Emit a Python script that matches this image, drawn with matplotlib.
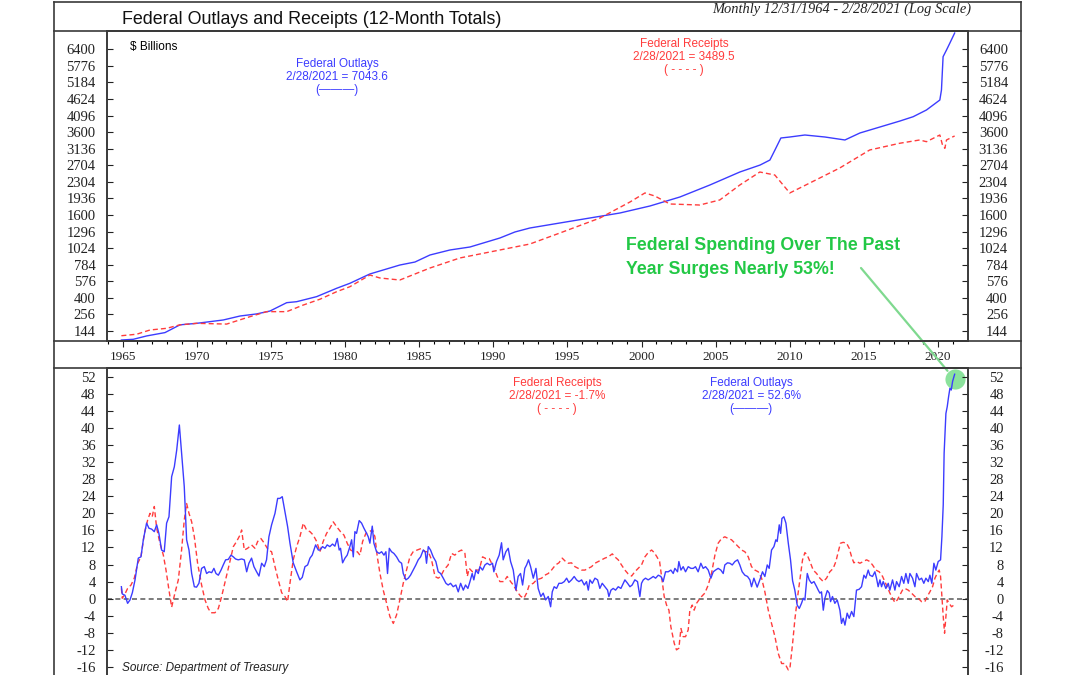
import matplotlib
matplotlib.use("Agg")
import numpy as np
import matplotlib.pyplot as plt
from matplotlib.lines import Line2D

plt.rcParams['axes.unicode_minus'] = False

# ---- data (decimal years) ----
top_out_years = [1964.92, 1965.72, 1966.63, 1967.86, 1968.87, 1970.00, 1971.79, 1972.92, 1974.04,
                 1974.94, 1976.07, 1976.74, 1978.09, 1979.44, 1980.33, 1981.68, 1983.70, 1984.72,
                 1985.73, 1987.08, 1988.43, 1990.45, 1991.46, 1992.47, 1994.50, 1996.52, 1998.54,
                 2000.57, 2002.59, 2004.61, 2006.63, 2008.00, 2008.66, 2009.00, 2009.40, 2010.00,
                 2011.02, 2012.37, 2013.72, 2014.73, 2017.43, 2018.32, 2019.22, 2020.12, 2020.23,
                 2020.34, 2020.57, 2020.79, 2021.12]
top_out = [96.6, 100, 117, 135, 182, 192, 215, 244, 260, 283, 355, 364, 412, 498, 553, 664, 780, 821,
           921, 996, 1042, 1187, 1289, 1359, 1450, 1543, 1639, 1779, 1967, 2232, 2538, 2711, 2838,
           3102, 3433, 3461, 3518, 3461, 3377, 3576, 3930, 4061, 4271, 4591, 4925, 6117, 6373, 6634,
           7043.6]

top_rec_years = [1964.92, 1965.95, 1966.85, 1967.97, 1968.87, 1970.00, 1972.02, 1973.59, 1974.72,
                 1976.07, 1977.19, 1978.31, 1979.44, 1980.33, 1981.68, 1982.36, 1983.70, 1985.73,
                 1987.75, 1990.45, 1992.47, 1994.50, 1997.20, 1999.22, 2000.23, 2000.90, 2001.91,
                 2003.93, 2005.28, 2006.63, 2007.98, 2008.99, 2010.00, 2011.35, 2013.37, 2015.39,
                 2017.41, 2018.76, 2019.22, 2020.12, 2020.30, 2020.46, 2020.57, 2021.01, 2021.12]
top_rec = [118, 126, 150, 160, 182, 192, 187, 239, 278, 278, 334, 387, 462, 515, 651, 615, 591, 740,
           878, 996, 1089, 1272, 1543, 1861, 2054, 1988, 1820, 1799, 1904, 2232, 2538, 2466, 2054,
           2278, 2637, 3102, 3285, 3377, 3329, 3518, 3238, 3147, 3377, 3469, 3489.5]

chg_out_years = [
    1964.92, 1964.98, 1965.16, 1965.34, 1965.50, 1965.66, 1965.84, 1966.06, 1966.24, 1966.40,
    1966.62, 1966.78, 1966.96, 1967.14, 1967.30, 1967.45, 1967.63, 1967.81, 1967.97, 1968.13,
    1968.31, 1968.49, 1968.65, 1968.83, 1968.98, 1969.16, 1969.32, 1969.48, 1969.66, 1969.84,
    1969.99, 1970.15, 1970.33, 1970.51, 1970.67, 1970.83, 1971.01, 1971.16, 1971.30, 1971.46,
    1971.64, 1971.79, 1971.95, 1972.13, 1972.31, 1972.47, 1972.62, 1972.80, 1973.03, 1973.21,
    1973.37, 1973.52, 1973.70, 1973.86, 1974.04, 1974.20, 1974.38, 1974.56, 1974.71, 1974.87,
    1975.05, 1975.28, 1975.46, 1975.61, 1975.77, 1975.95, 1976.13, 1976.29, 1976.51, 1976.74,
    1976.96, 1977.12, 1977.30, 1977.48, 1977.64, 1977.79, 1978.02, 1978.20, 1978.31, 1978.49,
    1978.65, 1978.80, 1978.98, 1979.16, 1979.32, 1979.48, 1979.61, 1979.70, 1979.84, 1980.00,
    1980.15, 1980.33, 1980.45, 1980.56, 1980.67, 1980.78, 1980.96, 1981.12, 1981.28, 1981.46,
    1981.57, 1981.68, 1981.84, 1981.95, 1982.13, 1982.31, 1982.47, 1982.63, 1982.76, 1982.87,
    1982.99, 1983.14, 1983.30, 1983.48, 1983.66, 1983.82, 1983.93, 1984.11, 1984.27, 1984.42,
    1984.60, 1984.78, 1984.94, 1985.10, 1985.28, 1985.41, 1985.50, 1985.62, 1985.77, 1985.95,
    1986.13, 1986.29, 1986.45, 1986.63, 1986.81, 1986.96, 1987.12, 1987.30, 1987.48, 1987.64,
    1987.80, 1987.98, 1988.13, 1988.29, 1988.43, 1988.58, 1988.69, 1988.83, 1988.99, 1989.10,
    1989.28, 1989.44, 1989.59, 1989.77, 1989.95, 1990.04, 1990.22, 1990.40, 1990.56, 1990.67,
    1990.85, 1991.01, 1991.17, 1991.35, 1991.53, 1991.68, 1991.84, 1991.98, 1992.13, 1992.25,
    1992.38, 1992.52, 1992.70, 1992.88, 1993.03, 1993.21, 1993.37, 1993.53, 1993.71, 1993.87,
    1993.98, 1994.11, 1994.27, 1994.43, 1994.61, 1994.79, 1994.95, 1995.10, 1995.28, 1995.46,
    1995.62, 1995.78, 1995.96, 1996.14, 1996.29, 1996.41, 1996.52, 1996.68, 1996.86, 1997.04,
    1997.19, 1997.35, 1997.53, 1997.71, 1997.80, 1997.94, 1998.09, 1998.25, 1998.43, 1998.61,
    1998.77, 1998.88, 1999.06, 1999.22, 1999.37, 1999.55, 1999.73, 1999.89, 2000.00, 2000.12,
    2000.27, 2000.45, 2000.63, 2000.79, 2000.95, 2001.13, 2001.31, 2001.46, 2001.62, 2001.80,
    2001.98, 2002.14, 2002.25, 2002.43, 2002.52, 2002.66, 2002.81, 2002.97, 2003.15, 2003.33,
    2003.49, 2003.64, 2003.82, 2004.00, 2004.16, 2004.32, 2004.50, 2004.68, 2004.84, 2004.99,
    2005.17, 2005.35, 2005.51, 2005.62, 2005.80, 2005.96, 2006.12, 2006.30, 2006.48, 2006.63,
    2006.79, 2006.97, 2007.15, 2007.31, 2007.42, 2007.58, 2007.80, 2007.98, 2008.16, 2008.32,
    2008.48, 2008.61, 2008.77, 2008.93, 2009.06, 2009.15, 2009.29, 2009.38, 2009.47, 2009.60,
    2009.74, 2009.90, 2010.05, 2010.19, 2010.34, 2010.50, 2010.64, 2010.79, 2010.91, 2011.02,
    2011.18, 2011.31, 2011.47, 2011.63, 2011.81, 2011.92, 2012.03, 2012.14, 2012.26, 2012.37,
    2012.53, 2012.66, 2012.75, 2012.88, 2013.04, 2013.20, 2013.38, 2013.49, 2013.60, 2013.72,
    2013.87, 2014.01, 2014.17, 2014.32, 2014.41, 2014.50, 2014.68, 2014.84, 2015.00, 2015.13,
    2015.29, 2015.40, 2015.58, 2015.74, 2015.85, 2015.96, 2016.08, 2016.19, 2016.30, 2016.48,
    2016.64, 2016.75, 2016.93, 2017.09, 2017.20, 2017.38, 2017.54, 2017.69, 2017.83, 2017.99,
    2018.10, 2018.28, 2018.44, 2018.55, 2018.73, 2018.89, 2019.04, 2019.18, 2019.34, 2019.45,
    2019.58, 2019.72, 2019.85, 2020.01, 2020.17, 2020.26, 2020.35, 2020.41, 2020.53, 2020.62,
    2020.71, 2020.80, 2020.89, 2020.98, 2021.07, 2021.12]
chg_out = [
    2.8, 1.1, 0.8, -1.1, -0.3, 1.4, 4.4, 9.5, 9.8, 13.8,
    17.7, 16.5, 16.3, 15.7, 17.3, 15.3, 11.4, 11.0, 17.7, 19.2,
    28.6, 30.9, 34.8, 40.7, 34.1, 26.3, 13.8, 11.4, 5.9, 2.8,
    2.7, 3.6, 7.1, 7.5, 5.9, 6.3, 6.1, 7.1, 5.9, 5.5,
    6.7, 7.9, 9.1, 9.2, 10.2, 9.8, 9.3, 9.1, 9.3, 9.1,
    6.3, 8.3, 9.5, 7.5, 6.3, 5.3, 8.3, 7.5, 9.1, 14.5,
    17.3, 20.0, 23.5, 23.5, 23.9, 20.4, 16.9, 13.0, 8.4, 6.3,
    4.4, 5.0, 7.5, 7.9, 9.5, 10.2, 12.6, 11.4, 11.4, 12.2,
    11.8, 12.6, 12.2, 12.8, 12.3, 14.1, 11.4, 11.8, 8.4, 9.5,
    10.2, 12.2, 13.8, 9.8, 15.7, 15.3, 18.3, 17.7, 16.5, 15.3,
    14.5, 13.0, 17.0, 13.0, 11.0, 10.6, 11.0, 10.2, 11.0, 5.9,
    11.8, 11.0, 10.6, 9.8, 8.7, 8.3, 5.9, 4.4, 4.8, 5.5,
    6.7, 7.9, 9.1, 9.8, 11.4, 11.0, 8.3, 12.2, 11.4, 9.8,
    8.7, 6.3, 5.9, 4.8, 3.6, 3.2, 3.6, 2.8, 3.2, 1.6,
    3.6, 2.0, 3.2, 2.4, 4.0, 5.9, 4.4, 6.7, 5.9, 7.5,
    6.7, 7.9, 8.3, 7.9, 8.3, 6.3, 8.7, 10.2, 13.1, 9.1,
    11.0, 11.8, 8.7, 6.7, 2.0, 5.2, 5.9, 3.2, 7.1, 7.9,
    9.1, 7.5, 4.8, 7.1, 2.4, 0.5, 1.3, -0.3, 0.5, -1.9,
    1.6, 2.8, 2.4, 3.6, 3.6, 4.0, 4.8, 3.8, 4.4, 5.2,
    4.4, 4.0, 4.4, 3.2, 4.0, 2.0, 4.4, 3.6, 4.8, 4.4,
    2.4, 3.6, 2.8, 2.0, 0.5, 2.0, 2.4, 2.0, 2.8, 2.4,
    3.6, 4.4, 3.6, 2.8, 3.2, 4.4, 4.0, 0.5, 3.6, 4.4,
    4.8, 4.4, 4.8, 5.2, 4.8, 5.5, 5.2, 4.0, 6.3, 6.3,
    6.7, 5.9, 7.1, 6.3, 8.7, 6.7, 7.5, 6.3, 7.5, 7.1,
    7.1, 7.5, 6.3, 8.3, 7.1, 7.5, 6.7, 4.8, 6.3, 6.7,
    7.1, 6.7, 5.9, 7.9, 8.4, 8.3, 7.9, 8.7, 9.1, 7.9,
    6.3, 5.5, 5.2, 4.4, 2.8, 4.8, 2.7, 4.4, 6.3, 5.2,
    7.9, 7.1, 11.4, 12.2, 13.8, 13.4, 17.3, 15.3, 18.8, 19.2,
    17.7, 13.0, 9.1, 4.2, 2.0, -1.5, -2.3, -1.1, 0.1, -0.3,
    5.9, 4.4, 3.6, 4.0, 2.8, 2.0, 1.3, 1.6, -2.7, 0.1,
    1.9, 1.3, -0.7, 0.5, -1.1, -0.3, -2.7, -5.8, -4.6, -6.2,
    -3.4, -4.6, -3.0, -4.2, -1.1, 2.0, 2.2, 2.8, 5.5, 4.8,
    6.7, 5.5, 5.2, 6.3, 4.8, 2.8, 4.4, 2.8, 4.0, 2.4,
    3.6, 2.0, 4.4, 2.0, 4.0, 2.8, 5.2, 3.6, 5.9, 3.6,
    5.9, 4.8, 2.8, 5.9, 4.4, 4.8, 3.6, 4.8, 4.0, 5.5,
    3.6, 8.3, 6.7, 8.7, 9.1, 14.5, 22.0, 34.1, 43.4, 45.0,
    47.3, 49.3, 48.9, 50.9, 52.0, 52.6]

chg_rec_years = [
    1964.92, 1964.98, 1965.16, 1965.34, 1965.57, 1965.79, 1966.02, 1966.24, 1966.47, 1966.69,
    1966.85, 1967.00, 1967.14, 1967.30, 1967.52, 1967.75, 1967.93, 1968.13, 1968.31, 1968.53,
    1968.76, 1968.98, 1969.16, 1969.32, 1969.48, 1969.66, 1969.84, 1970.06, 1970.33, 1970.56,
    1970.78, 1970.96, 1971.23, 1971.46, 1971.68, 1971.95, 1972.24, 1972.47, 1972.69, 1972.92,
    1973.03, 1973.21, 1973.43, 1973.70, 1973.93, 1974.11, 1974.33, 1974.56, 1974.83, 1975.05,
    1975.28, 1975.50, 1975.73, 1975.95, 1976.13, 1976.29, 1976.51, 1976.74, 1976.96, 1977.19,
    1977.41, 1977.64, 1977.86, 1978.09, 1978.31, 1978.53, 1978.76, 1978.98, 1979.21, 1979.43,
    1979.70, 1979.93, 1980.15, 1980.38, 1980.60, 1980.83, 1981.01, 1981.19, 1981.41, 1981.64,
    1981.86, 1982.02, 1982.18, 1982.36, 1982.58, 1982.81, 1983.03, 1983.26, 1983.48, 1983.70,
    1983.93, 1984.15, 1984.38, 1984.60, 1984.87, 1985.17, 1985.39, 1985.62, 1985.84, 1986.07,
    1986.29, 1986.45, 1986.67, 1986.96, 1987.19, 1987.41, 1987.64, 1987.86, 1988.09, 1988.25,
    1988.38, 1988.60, 1988.83, 1989.05, 1989.28, 1989.50, 1989.73, 1989.95, 1990.11, 1990.27,
    1990.45, 1990.72, 1990.94, 1991.17, 1991.35, 1991.62, 1991.84, 1992.07, 1992.25, 1992.43,
    1992.70, 1992.92, 1993.26, 1993.48, 1993.71, 1993.93, 1994.20, 1994.43, 1994.65, 1994.88,
    1995.06, 1995.28, 1995.51, 1995.73, 1995.96, 1996.18, 1996.41, 1996.63, 1996.86, 1997.08,
    1997.31, 1997.53, 1997.76, 1998.03, 1998.20, 1998.43, 1998.65, 1998.88, 1999.10, 1999.33,
    1999.55, 1999.78, 2000.00, 2000.23, 2000.45, 2000.68, 2000.86, 2001.04, 2001.22, 2001.35,
    2001.53, 2001.69, 2001.85, 2001.98, 2002.21, 2002.36, 2002.52, 2002.66, 2002.81, 2002.97,
    2003.15, 2003.26, 2003.42, 2003.55, 2003.71, 2003.87, 2004.05, 2004.27, 2004.50, 2004.72,
    2004.95, 2005.17, 2005.40, 2005.62, 2005.85, 2006.07, 2006.30, 2006.52, 2006.75, 2006.97,
    2007.20, 2007.42, 2007.65, 2007.87, 2008.10, 2008.32, 2008.55, 2008.77, 2009.00, 2009.22,
    2009.45, 2009.67, 2009.90, 2010.01, 2010.19, 2010.34, 2010.50, 2010.68, 2010.86, 2011.02,
    2011.18, 2011.36, 2011.58, 2011.81, 2012.03, 2012.26, 2012.48, 2012.70, 2012.93, 2013.11,
    2013.27, 2013.42, 2013.60, 2013.83, 2014.01, 2014.17, 2014.32, 2014.50, 2014.73, 2014.95,
    2015.18, 2015.40, 2015.58, 2015.81, 2016.03, 2016.26, 2016.41, 2016.57, 2016.75, 2016.93,
    2017.09, 2017.25, 2017.43, 2017.60, 2017.76, 2017.99, 2018.21, 2018.44, 2018.66, 2018.89,
    2019.11, 2019.27, 2019.45, 2019.63, 2019.79, 2019.94, 2020.08, 2020.17, 2020.26, 2020.35,
    2020.44, 2020.53, 2020.62, 2020.75, 2020.91, 2021.07, 2021.12]
chg_rec = [
    2.4, 0.1, 1.1, 2.4, 3.2, 4.8, 8.3, 9.8, 15.3, 18.4,
    20.0, 19.2, 21.6, 16.5, 13.0, 10.2, 6.7, 2.0, -2.0, 1.3,
    4.4, 11.4, 18.4, 22.3, 20.0, 18.0, 14.5, 8.3, 3.2, -0.3,
    -2.3, -3.3, -3.3, -2.3, 0.5, 4.4, 8.7, 12.2, 13.4, 14.9,
    16.1, 11.4, 11.8, 12.6, 11.8, 13.4, 14.1, 13.0, 11.4, 11.0,
    7.5, 4.4, 1.4, 0.5, -0.7, 3.6, 9.1, 12.2, 14.5, 17.7,
    16.1, 15.7, 14.9, 13.4, 11.0, 13.4, 15.3, 16.5, 18.0, 16.9,
    15.7, 14.9, 13.0, 11.4, 11.0, 11.0, 10.2, 13.4, 15.3, 15.7,
    16.1, 14.5, 9.8, 5.9, 2.0, -1.1, -4.2, -5.8, -3.8, -0.3,
    3.6, 6.7, 9.8, 11.0, 11.4, 11.8, 11.0, 11.0, 9.1, 5.2,
    4.8, 5.2, 6.7, 7.9, 10.6, 10.2, 11.0, 11.4, 10.6, 5.2,
    7.1, 6.3, 6.7, 6.7, 9.8, 9.4, 9.4, 7.9, 6.7, 5.2,
    4.0, 4.0, 5.2, 4.0, 3.2, 1.6, 0.6, 0.1, 1.3, 3.2,
    3.6, 4.4, 4.8, 5.5, 5.9, 6.7, 7.9, 8.4, 9.5, 8.7,
    8.3, 8.4, 7.5, 7.1, 6.7, 6.7, 7.1, 7.5, 8.3, 8.7,
    9.1, 9.5, 9.8, 10.5, 9.8, 9.1, 7.9, 6.7, 5.8, 5.3,
    6.3, 7.1, 7.9, 9.8, 10.8, 11.4, 10.8, 9.8, 8.7, 5.2,
    0.5, -1.5, -2.7, -6.6, -10.5, -12.0, -11.6, -7.0, -8.9, -8.9,
    -7.3, -2.7, -1.5, -2.7, -1.1, -0.3, 0.5, 1.3, 3.2, 5.9,
    10.2, 13.0, 14.1, 14.5, 14.1, 13.8, 13.0, 12.2, 11.4, 11.0,
    9.8, 7.5, 6.7, 6.3, 4.8, 1.6, -2.7, -5.8, -8.9, -12.8,
    -15.2, -15.2, -16.7, -16.3, -10.5, -5.0, -0.3, 4.4, 9.1, 10.8,
    10.2, 8.7, 6.7, 5.9, 4.8, 4.0, 4.8, 6.3, 7.1, 8.7,
    11.0, 13.0, 13.2, 13.0, 11.8, 9.8, 8.4, 8.7, 8.3, 8.7,
    9.1, 8.7, 7.9, 6.7, 6.3, 5.2, 4.0, 2.8, 1.3, 0.1,
    -0.9, -0.3, 0.9, 2.0, 2.4, 2.0, 1.3, 0.5, 0.1, -0.7,
    -0.7, 0.5, 1.6, 2.8, 4.8, 5.9, 6.7, 5.2, 0.5, -4.2,
    -8.1, -4.2, -0.3, -1.1, -1.9, -1.5, -1.7]

top_ticks = [144, 256, 400, 576, 784, 1024, 1296, 1600, 1936, 2304, 2704, 3136,
             3600, 4096, 4624, 5184, 5776, 6400]
chg_ticks = list(range(-16, 53, 4))
year_ticks = list(range(1965, 2021, 5))

blue = '#3c3cff'
red = '#ff3c3c'
frame = '#3a3a3a'
serif = 'Liberation Serif'
sans = 'Liberation Sans'

W, H = 1080, 675
fig = plt.figure(figsize=(10.8, 6.75), dpi=100)

def fx(px):
    return px / W

def fy(py):
    return 1 - py / H

left, right = 107.3, 967.7
ax1 = fig.add_axes([fx(left), fy(341), (right - left) / W, (341 - 30.7) / H])
ax2 = fig.add_axes([fx(left), fy(684), (right - left) / W, (684 - 368) / H])

sqrt_scale = (lambda v: np.sqrt(np.clip(v, 0, None)), np.square)

# ---- top panel ----
ax1.plot(top_out_years, top_out, color=blue, lw=1.0)
ax1.plot(top_rec_years, top_rec, color=red, lw=1.0, ls=(0, (3.6, 2.2)))
ax1.set_yscale('function', functions=sqrt_scale)
ylim1 = (9.59 ** 2, 84.49 ** 2)
ax1.set_ylim(*ylim1)
ax1.set_xlim(1963.97, 2022.0)
ax1.set_yticks(top_ticks)
ax1.set_yticklabels([str(t) for t in top_ticks])
ax1.yaxis.set_minor_locator(plt.NullLocator())
ax1.tick_params(axis='y', direction='in', length=4, width=0.8, pad=8.4,
                labelsize=10.5, labelfontfamily=serif, colors='#222222')
ax1.set_xticks(year_ticks)
ax1.set_xticks(range(1964, 2022), minor=True)
ax1.tick_params(axis='x', which='major', direction='out', length=4.5, width=0.8, pad=2.5,
                labelsize=9.5, labelfontfamily=serif, colors='#222222')
ax1.tick_params(axis='x', which='minor', direction='out', length=2.3, width=0.8)

ax1r = ax1.twinx()
ax1r.set_yscale('function', functions=sqrt_scale)
ax1r.set_ylim(*ylim1)
ax1r.set_yticks(top_ticks)
ax1r.set_yticklabels([str(t) for t in top_ticks])
ax1r.yaxis.set_minor_locator(plt.NullLocator())
ax1r.tick_params(axis='y', direction='in', length=4, width=0.8, pad=29,
                 labelsize=10.5, labelfontfamily=serif, colors='#222222')
plt.setp(ax1r.get_yticklabels(), ha='right')

# ---- bottom panel ----
ax2.axhline(0, color='#666666', lw=1.2, ls=(0, (3, 2)), zorder=1)
ax2.plot(chg_rec_years, chg_rec, color=red, lw=1.0, ls=(0, (3.6, 2.2)), zorder=3)
ax2.plot(chg_out_years, chg_out, color=blue, lw=1.0, zorder=4)
ax2.plot(chg_out_years[-1], chg_out[-1] - 1.2, 'o', ms=14.5, color='#5ad673', alpha=0.7,
         mec='none', zorder=2)
ax2.set_xlim(1963.97, 2022.0)
ylim2 = (-20, 54.06)
ax2.set_ylim(*ylim2)
ax2.set_yticks(chg_ticks)
ax2.set_yticklabels([str(t) for t in chg_ticks])
ax2.tick_params(axis='y', direction='in', length=4, width=0.8, pad=8.4,
                labelsize=10.5, labelfontfamily=serif, colors='#222222')
ax2.tick_params(axis='x', bottom=False, labelbottom=False)

ax2r = ax2.twinx()
ax2r.set_ylim(*ylim2)
ax2r.set_yticks(chg_ticks)
ax2r.set_yticklabels([str(t) for t in chg_ticks])
ax2r.tick_params(axis='y', direction='in', length=4, width=0.8, pad=26,
                 labelsize=10.5, labelfontfamily=serif, colors='#222222')
plt.setp(ax2r.get_yticklabels(), ha='right')

for a in (ax1, ax1r, ax2, ax2r):
    for s in a.spines.values():
        s.set_color(frame)
        s.set_linewidth(1.2)

# ---- frame lines ----
def hline(py, x0=54, x1=1021):
    fig.add_artist(Line2D([fx(x0), fx(x1)], [fy(py), fy(py)], color=frame, lw=1.2))

def vline(px, y0=2, y1=700):
    fig.add_artist(Line2D([fx(px), fx(px)], [fy(y0), fy(y1)], color=frame, lw=1.2))

hline(2)
hline(30.7)
hline(341)
hline(368)
vline(54)
vline(1021)

# ---- texts ----
fig.text(fx(122), fy(20), 'Federal Outlays and Receipts (12-Month Totals)', family=sans,
         fontsize=12.9, va='center', ha='left', color='#111111')
fig.text(fx(971), fy(9.5), 'Monthly 12/31/1964 - 2/28/2021 (Log Scale)', family=serif,
         style='italic', fontsize=10.4, va='center', ha='right', color='#222222')
fig.text(fx(130), fy(47), '$ Billions', family=sans, fontsize=8.5, va='center', ha='left')
fig.text(fx(122), fy(674), 'Source: Department of Treasury', family=sans, style='italic',
         fontsize=8.5, va='bottom', ha='left', color='#222222')

def label_block(cx, y0, lines, color):
    for i, s in enumerate(lines):
        fig.text(fx(cx), fy(y0 + 13 * i), s, family=sans, fontsize=8.5, color=color,
                 ha='center', va='center')

label_block(337, 64, ['Federal Outlays', '2/28/2021 = 7043.6', '(\u2014\u2014\u2014)'], blue)
label_block(684, 44, ['Federal Receipts', '2/28/2021 = 3489.5', '( - - - - )'], red)
label_block(557, 383, ['Federal Receipts', '2/28/2021 = -1.7%', '( - - - - )'], red)
label_block(751, 383, ['Federal Outlays', '2/28/2021 = 52.6%', '(\u2014\u2014\u2014)'], blue)

green = '#22c845'
fig.text(fx(626), fy(245), 'Federal Spending Over The Past', family=sans, weight='bold',
         fontsize=12.8, color=green, ha='left', va='center')
fig.text(fx(626), fy(270), 'Year Surges Nearly 53%!', family=sans, weight='bold',
         fontsize=12.8, color=green, ha='left', va='center')
ax2.annotate('', xy=(chg_out_years[-1], chg_out[-1] - 1.2), xycoords='data',
             xytext=(861, H - 268), textcoords='figure pixels',
             arrowprops=dict(arrowstyle='-', color='#7fd98f', lw=1.6, shrinkA=0, shrinkB=8),
             annotation_clip=False)

fig.savefig('out.png', dpi=100)
